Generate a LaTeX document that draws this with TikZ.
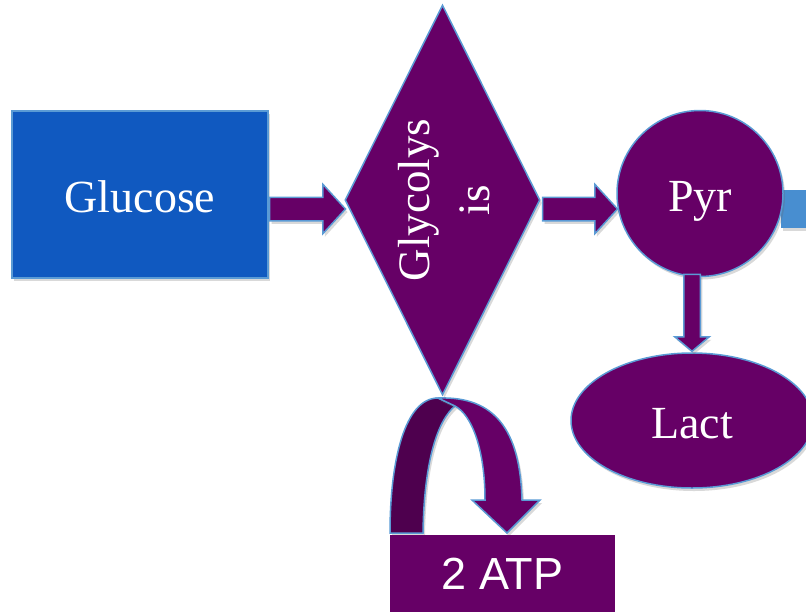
\documentclass[tikz,border=0pt]{standalone}
\usepackage{xcolor}
\usepackage{fontspec}
\usepackage{tikz}
\usetikzlibrary{shapes.geometric}
\usetikzlibrary{shapes.arrows}
\usetikzlibrary{shadows}
\usetikzlibrary{calc}
\setmainfont{Liberation Serif}
\newfontfamily\atpfont{Liberation Sans}
\definecolor{plum}{RGB}{102,0,102}
\definecolor{darkplum}{RGB}{78,0,78}
\definecolor{glucblue}{RGB}{16,89,192}
\definecolor{rimblue}{RGB}{91,155,213}
\definecolor{nextblue}{RGB}{72,142,208}
\tikzset{
softshadow/.style={drop shadow={shadow xshift=2pt,shadow yshift=-3pt,opacity=.25,fill=black!60}},
shapebox/.style={
  draw=rimblue,
  line width=1.5pt,
  text=white,
  font=\fontsize{46}{60}\selectfont,
  inner sep=0pt,
  text height=36pt,
  text depth=0pt,
  softshadow
},
glucbox/.style={shapebox,rectangle,fill=glucblue,minimum width=256pt,minimum height=167pt},
glycobox/.style={shapebox,diamond,fill=plum,minimum width=195pt,minimum height=390pt},
glycotext/.style={rotate=90,text=white,align=center,inner sep=0pt,font=\fontsize{45}{60}\selectfont},
pyrbox/.style={shapebox,circle,fill=plum,minimum size=166pt},
lactbox/.style={shapebox,ellipse,fill=plum,minimum width=242pt,minimum height=135pt},
atpbox/.style={rectangle,fill=plum,text=white,inner sep=0pt,minimum width=225pt,minimum height=77pt,
  font=\atpfont\fontsize{45}{50}\selectfont},
nextbox/.style={rectangle,fill=nextblue,inner sep=0pt,minimum width=40pt,minimum height=38pt,softshadow},
fatarrow/.style={
  single arrow,
  fill=plum,
  draw=rimblue,
  line width=1.5pt,
  inner xsep=0pt,
  inner ysep=11pt,
  single arrow head extend=13pt,
  single arrow tip angle=95,
  softshadow
},
% pointing down, so the shaft width comes from the x sep
thinarrow/.style={fatarrow,inner xsep=7.5pt,inner ysep=0pt,single arrow head extend=9pt,single arrow tip angle=100},
bandfront/.style={fill=plum,draw=rimblue,line width=1.5pt,softshadow},
bandback/.style={fill=darkplum,draw=rimblue,line width=1.5pt,softshadow}
}

\begin{document}
\begin{tikzpicture}[x=1pt,y=-1pt]
\clip (0,0) rectangle (806,611);
% the stub going out on the right
\node[nextbox,anchor=west] (next) at (781,209) {};
% the turning arrow down to the ATP
\draw[bandback]
  (390,533) .. controls (390,460) and (405,398) .. (438,398) -- (455,406)
  .. controls (438,420) and (424,460) .. (423,533) -- cycle;
\draw[bandfront]
  (438,398) .. controls (495,396) and (520,430) .. (522,500)
  -- (540,500) -- (507,533) -- (472,500) -- (485,500)
  .. controls (485,450) and (472,415) .. (455,406) -- cycle;
% the shapes
\node[glucbox] (glucose) at (140,194.5) {Glucose};
\node[glycobox] (glyco) at (442.5,200) {};
\node[glycotext] (glycolabel) at (444,200) {Glycolys\\is};
\node[pyrbox] (pyr) at (700,193.5) {Pyr};
\node[lactbox] (lact) at (692,420.5) {Lact};
\node[atpbox] (atp) at (502.5,573.5) {2 ATP};
% the arrows
\node[fatarrow,minimum height=76pt,anchor=tail] (toglyco) at ($(glucose.east)+(0,14.5)$) {};
\node[fatarrow,minimum height=75pt,anchor=tail] (topyr) at ($(glyco.east)+(1,9)$) {};
\node[thinarrow,shape border rotate=270,minimum height=77pt,anchor=tip] (tolact) at (lact.north) {};
\end{tikzpicture}
\end{document}
